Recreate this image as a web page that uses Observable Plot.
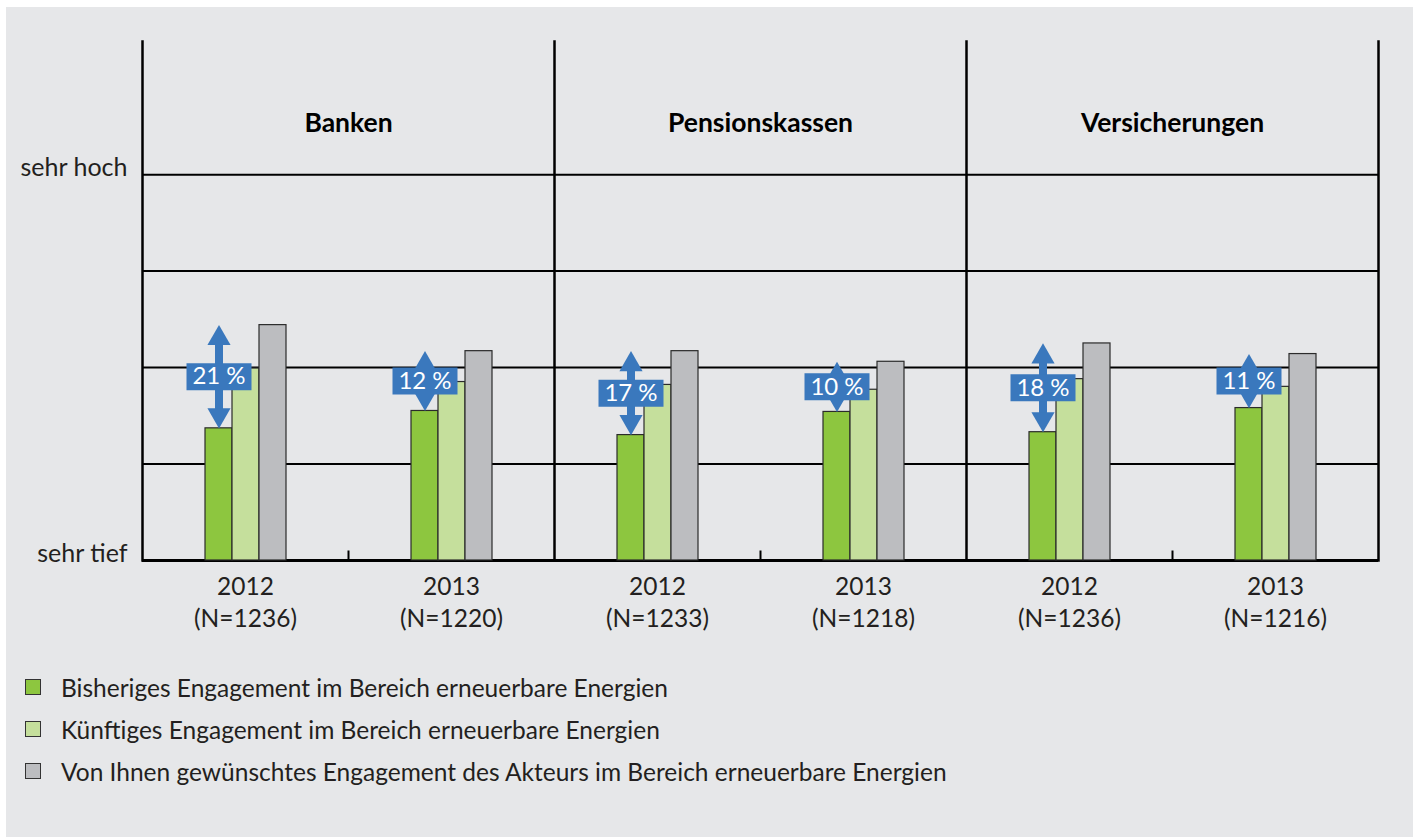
<!DOCTYPE html>
<html>
<head>
<meta charset="utf-8">
<script src="https://cdn.jsdelivr.net/npm/d3@7"></script>
<script src="https://cdn.jsdelivr.net/npm/@observablehq/plot@0.6"></script>
<style>
  html, body { margin: 0; padding: 0; background: #ffffff; }
  #panel {
    position: absolute; left: 6px; top: 7px; width: 1407px; height: 830px;
    background: #e6e7e9; font-family: Lato, "Open Sans", sans-serif; color: #231f20;
  }
  #chart svg { display: block; }
  #legend { padding-top: 16px; }
  .row { height: 42px; display: flex; align-items: center; font-size: 24.5px; }
  .sw { width: 14px; height: 14px; border: 1px solid #333; margin-left: 19px; margin-right: 20px; }
</style>
</head>
<body>
<div id="panel">
  <div id="chart"></div>
  <div id="legend"></div>
</div>
<script>
// ---- data ----
const sectors = ["Banken", "Pensionskassen", "Versicherungen"];
const years = ["2012", "2013"];
const sampleSizes = [[1236, 1220], [1233, 1218], [1236, 1216]];
const series = [
  "Bisheriges Engagement im Bereich erneuerbare Energien",
  "Künftiges Engagement im Bereich erneuerbare Energien",
  "Von Ihnen gewünschtes Engagement des Akteurs im Bereich erneuerbare Energien"
];
const seriesColors = ["#8dc63f", "#c5df9c", "#bcbdc0"];
// values per sector/year: Banken 2012, Banken 2013, Pensionskassen 2012, ...
const bisherig   = [2.37, 2.55, 2.30, 2.54, 2.33, 2.58];
const kuenftig   = [2.99, 2.85, 2.82, 2.77, 2.88, 2.80];
const gewuenscht = [3.44, 3.17, 3.17, 3.06, 3.25, 3.14];
const gapLabels  = ["21 %", "12 %", "17 %", "10 %", "18 %", "11 %"];
const gridLevels = [1, 2, 3, 4, 5];
const yTickValues = [1, 5];
const yTickLabels = ["sehr tief", "sehr hoch"];
const yTop = 6.38;

// ---- derived tables ----
const keyOf = (s, y) => s + " " + y;
const facetKeys = [];
const facetLabel = new Map();
sectors.forEach((s, i) => years.forEach((y, j) => {
  const k = keyOf(s, y);
  facetKeys.push(k);
  facetLabel.set(k, y + "\n(N=" + sampleSizes[i][j] + ")");
}));
const valueSets = [bisherig, kuenftig, gewuenscht];
const bars = [];
facetKeys.forEach((k, i) => series.forEach((se, si) => bars.push({facet: k, series: se, value: valueSets[si][i]})));
const gaps = facetKeys.map((k, i) => ({facet: k, from: bisherig[i], to: gewuenscht[i], label: gapLabels[i]}));

const blue = "#3a78bd";
const W = 1407, H = 643;
const mT = 34, mB = 90, mL = 135, mR = 34;
const boxSymbol = {draw(ctx) { ctx.rect(-32.5, -13.5, 65, 27); }};

const chart = Plot.plot({
  width: W, height: H,
  marginTop: mT, marginBottom: mB, marginLeft: mL, marginRight: mR,
  style: {background: "transparent", fontFamily: "Lato, 'Open Sans', sans-serif", color: "#231f20"},
  fx: {domain: facetKeys, padding: 0, axis: null},
  x: {domain: series, paddingInner: 0, paddingOuter: 2.25, axis: null},
  y: {domain: [1, yTop], axis: null},
  color: {domain: series, range: seriesColors},
  marks: [
    Plot.ruleY(gridLevels, {stroke: "#000", strokeWidth: 2}),
    Plot.ruleY([gridLevels[0]], {stroke: "#000", strokeWidth: 2.8}),
    ...sectors.map(s => Plot.frame({anchor: "left", fx: () => keyOf(s, years[0]), stroke: "#000", strokeWidth: 2.5})),
    Plot.frame({anchor: "right", fx: () => keyOf(sectors[sectors.length - 1], years[1]), stroke: "#000", strokeWidth: 2.5}),
    ...sectors.map(s => Plot.frame({anchor: "left", fx: () => keyOf(s, years[1]), stroke: "#000", strokeWidth: 2, insetTop: H - mT - mB - 9})),
    Plot.barY(bars, {fx: "facet", x: "series", y1: 1, y2: "value", fill: "series", stroke: "#2b2b2b", strokeWidth: 1.2}),
    Plot.ruleX(gaps, {fx: "facet", x: () => series[0], y1: "to", y2: "from", stroke: blue, strokeWidth: 8, insetTop: 12, insetBottom: 12}),
    Plot.dot(gaps, {fx: "facet", x: () => series[0], y: "to", symbol: "triangle", r: 8.6, fill: blue, dy: 13.3}),
    Plot.dot(gaps, {fx: "facet", x: () => series[0], y: "from", symbol: "triangle", r: 8.6, fill: blue, rotate: 180, dy: -13.3}),
    Plot.dot(gaps, {fx: "facet", x: () => series[0], y: d => (d.from + d.to) / 2, symbol: boxSymbol, r: 1, fill: blue}),
    Plot.text(gaps, {fx: "facet", x: () => series[0], y: d => (d.from + d.to) / 2, text: "label", fill: "#fff", fontSize: 24}),
    Plot.text(sectors, {fx: s => keyOf(s, years[0]), frameAnchor: "top-right", lineAnchor: "middle", text: d => d, textAnchor: "middle", dy: 82, fontWeight: "bold", fontSize: 26.5, fill: "#000"}),
    Plot.axisY({ticks: yTickValues, tickFormat: d => yTickLabels[yTickValues.indexOf(d)], tickSize: 0, tickPadding: 15, fontSize: 25, dy: -7, label: null}),
    Plot.axisFx({anchor: "bottom", tickSize: 0, tickPadding: 12, tickFormat: k => facetLabel.get(k), fontSize: 24.5, lineHeight: 1.3, label: null})
  ]
});
document.getElementById("chart").appendChild(chart);

const legend = document.getElementById("legend");
series.forEach((s, i) => {
  const row = document.createElement("div");
  row.className = "row";
  const sw = document.createElement("span");
  sw.className = "sw";
  sw.style.background = seriesColors[i];
  const t = document.createElement("span");
  t.textContent = s;
  row.appendChild(sw); row.appendChild(t);
  legend.appendChild(row);
});
</script>
</body>
</html>
